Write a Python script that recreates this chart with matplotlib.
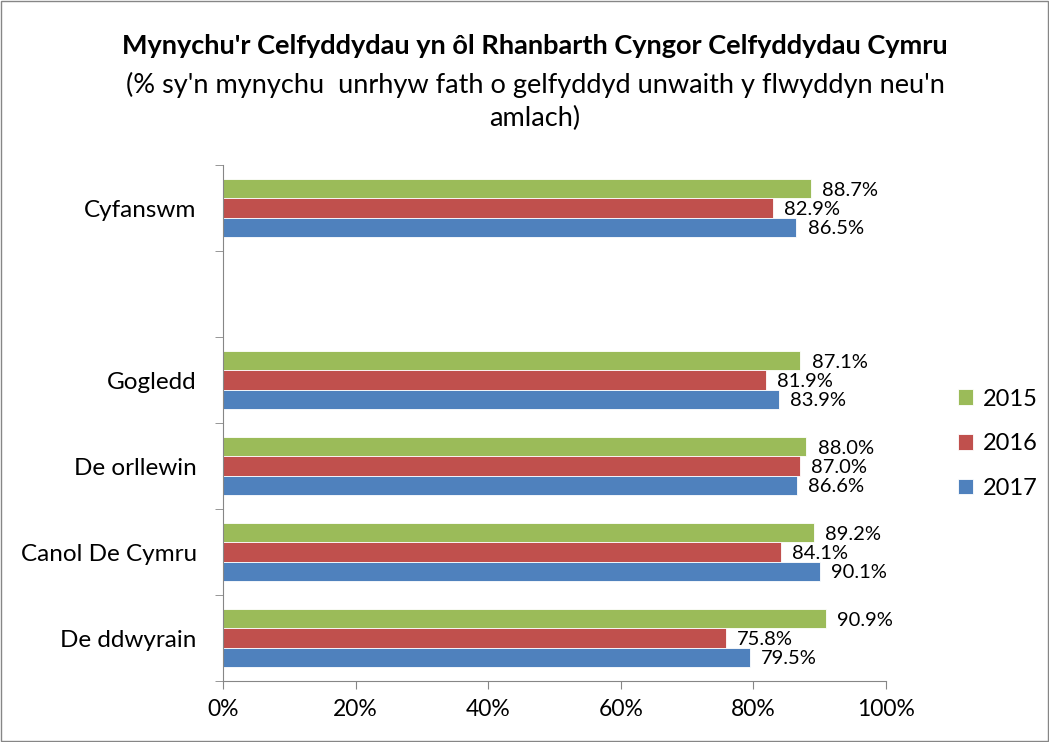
import matplotlib.pyplot as plt
import matplotlib.patches as mpatches
import numpy as np

plt.rcParams["font.family"] = ["Lato", "DejaVu Sans"]

# 類別 (由下往上), 空白列用空字串
regions = ["De ddwyrain", "Canol De Cymru", "De orllewin", "Gogledd", "", "Cyfanswm"]
years = ["2015", "2016", "2017"]
vals_2015 = [90.9, 89.2, 88.0, 87.1, np.nan, 88.7]
vals_2016 = [75.8, 84.1, 87.0, 81.9, np.nan, 82.9]
vals_2017 = [79.5, 90.1, 86.6, 83.9, np.nan, 86.5]
colors = ["#9BBB59", "#C0504D", "#4F81BD"]

fig = plt.figure(figsize=(10.49, 7.42), dpi=100)
ax = fig.add_axes([0.2126, 0.0822, 0.632, 0.6954])

y = np.arange(len(regions))
h = 0.222
series = [vals_2015, vals_2016, vals_2017]
offsets = [h, 0, -h]
handles = []
for vals, off, col, yr in zip(series, offsets, colors, years):
    bars = ax.barh(y + off, vals, height=h, color=col, edgecolor="white",
                   linewidth=0.6, label=yr)
    handles.append(bars)
    for yy, v in zip(y, vals):
        if np.isnan(v):
            continue
        ax.annotate(f"{v:.1f}%", (v, yy + off), xytext=(8, -1),
                    textcoords="offset points", va="center", ha="left",
                    fontsize=14.5)

ax.set_xlim(0, 100)
ax.set_ylim(-0.5, len(regions) - 0.5)
ax.set_xticks(np.arange(0, 101, 20))
ax.set_xticklabels([f"{t}%" for t in range(0, 101, 20)], fontsize=16.5)
ax.set_yticks(y)
ax.set_yticklabels(regions, fontsize=17.5)
ax.set_yticks(np.arange(-0.5, len(regions), 1), minor=True)
ax.tick_params(axis="y", which="major", length=0, pad=19)
ax.tick_params(axis="y", which="minor", length=6, color="#868686")
ax.tick_params(axis="x", length=6, color="#868686", pad=7)

for s in ["top", "right"]:
    ax.spines[s].set_visible(False)
for s in ["left", "bottom"]:
    ax.spines[s].set_color("#868686")

fig.text(0.51, 0.938, "Mynychu'r Celfyddydau yn ôl Rhanbarth Cyngor Celfyddydau Cymru",
         ha="center", va="center", fontsize=19.5, fontweight="bold")
fig.text(0.51, 0.885, "(% sy'n mynychu  unrhyw fath o gelfyddyd unwaith y flwyddyn neu'n",
         ha="center", va="center", fontsize=19.5)
fig.text(0.51, 0.84, "amlach)", ha="center", va="center", fontsize=19.5)

fig.legend(handles=handles, labels=years, loc="center left",
           bbox_to_anchor=(0.893, 0.402), frameon=False, fontsize=17,
           handlelength=0.65, handleheight=0.65, labelspacing=1.0,
           handletextpad=0.4)

fig.patches.append(mpatches.Rectangle((0.001, 0.001), 0.998, 0.998,
                                      transform=fig.transFigure, fill=False,
                                      edgecolor="#868686", linewidth=1))

fig.savefig("out.png", dpi=100)
